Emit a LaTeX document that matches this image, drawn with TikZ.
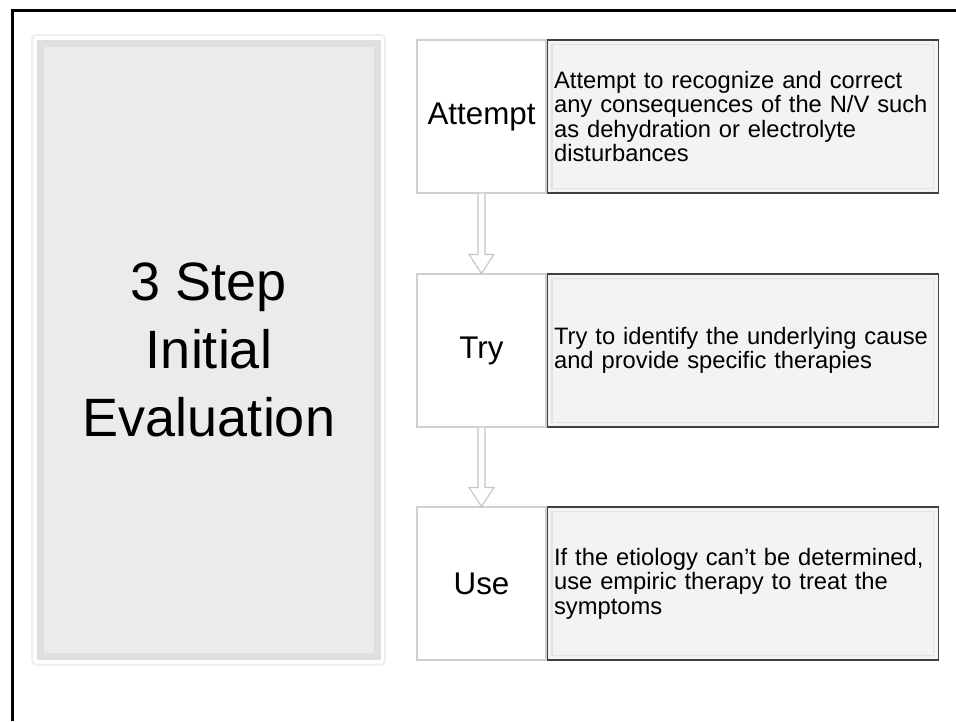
\documentclass[tikz,border=0pt]{standalone}
\usepackage{fontspec}
\setmainfont{Liberation Sans}
\usetikzlibrary{calc}
\definecolor{evalfill}{HTML}{EBEBEB}
\definecolor{evalband}{HTML}{DFDFDF}
\definecolor{evalring}{HTML}{EEEEEE}
\definecolor{notefill}{HTML}{F3F3F3}
\definecolor{noteline}{HTML}{404040}
\definecolor{noteinner}{HTML}{E2E2E2}
\definecolor{stepgrey}{HTML}{D0D0D0}
\definecolor{arrowgrey}{HTML}{C4C4C4}
\def\hollowarrow(#1)(#2){\draw[arrowline] ($(#1)+(-3.5,0)$) -- ($(#2)+(-3.5,-19)$) -- ($(#2)+(-12.5,-19)$) -- (#2) -- ($(#2)+(12.5,-19)$) -- ($(#2)+(3.5,-19)$) -- ($(#1)+(3.5,0)$);}

\begin{document}
\begin{tikzpicture}[x=0.75pt, y=-0.75pt,
	evalbox/.style={draw=evalband, fill=evalfill, line width=5.25pt, minimum width=252.4pt, minimum height=460.1pt, align=center, font=\fontsize{40.5}{51}\selectfont},
	stepbox/.style={draw=stepgrey, fill=white, line width=0.8pt, minimum width=96.75pt, minimum height=114.75pt, inner sep=0pt, font=\fontsize{23.5}{28}\selectfont},
	notebox/.style={draw=noteline, fill=notefill, line width=1.1pt, minimum width=293.25pt, minimum height=114.75pt, text width=283pt, inner xsep=5pt, align=left, anchor=west, font=\fontsize{17.8}{18.3}\selectfont,
		path picture={\draw[noteinner, line width=0.9pt] ([shift={(3.5pt,-3.5pt)}]path picture bounding box.north west) rectangle ([shift={(-3.5pt,3.5pt)}]path picture bounding box.south east);}},
	arrowline/.style={draw=arrowgrey, fill=white, line width=0.8pt}]
			%%%%% START %%%%%
			
			\useasboundingbox (0, 0) rectangle (956, 721);
			
			\draw[line width=2.25pt] (12, 721) -- (12, 10.5) -- (956, 10.5);
			
			\node[evalbox] (eval) at (209, 350) {3 Step\\Initial\\Evaluation};
			\draw[evalring, line width=1.5pt, rounded corners=3pt] ($(eval.north west)+(-5,-5)$) rectangle ($(eval.south east)+(4,4.5)$);
			
			\node[stepbox] (attempt) at (481.5, 116.5) {Attempt};
			\node[notebox] (attemptnote) at (attempt.east) {\mbox{Attempt to recognize and correct}\\\mbox{any consequences of the N/V such}\\\mbox{as dehydration or electrolyte}\\disturbances};
			
			\node[stepbox] (try) at (481.5, 350.5) {Try};
			\node[notebox] (trynote) at (try.east) {\mbox{Try to identify the underlying cause}\\\mbox{and provide specific therapies}};
			
			\node[stepbox] (use) at (481.5, 583.5) {Use};
			\node[notebox] (usenote) at (use.east) {\mbox{If the etiology can’t be determined,}\\\mbox{use empiric therapy to treat the}\\symptoms};
			
			\hollowarrow(attempt.south)(try.north);
			\hollowarrow(try.south)(use.north);
			
			%%%%% END %%%%%
\end{tikzpicture}
\end{document}
